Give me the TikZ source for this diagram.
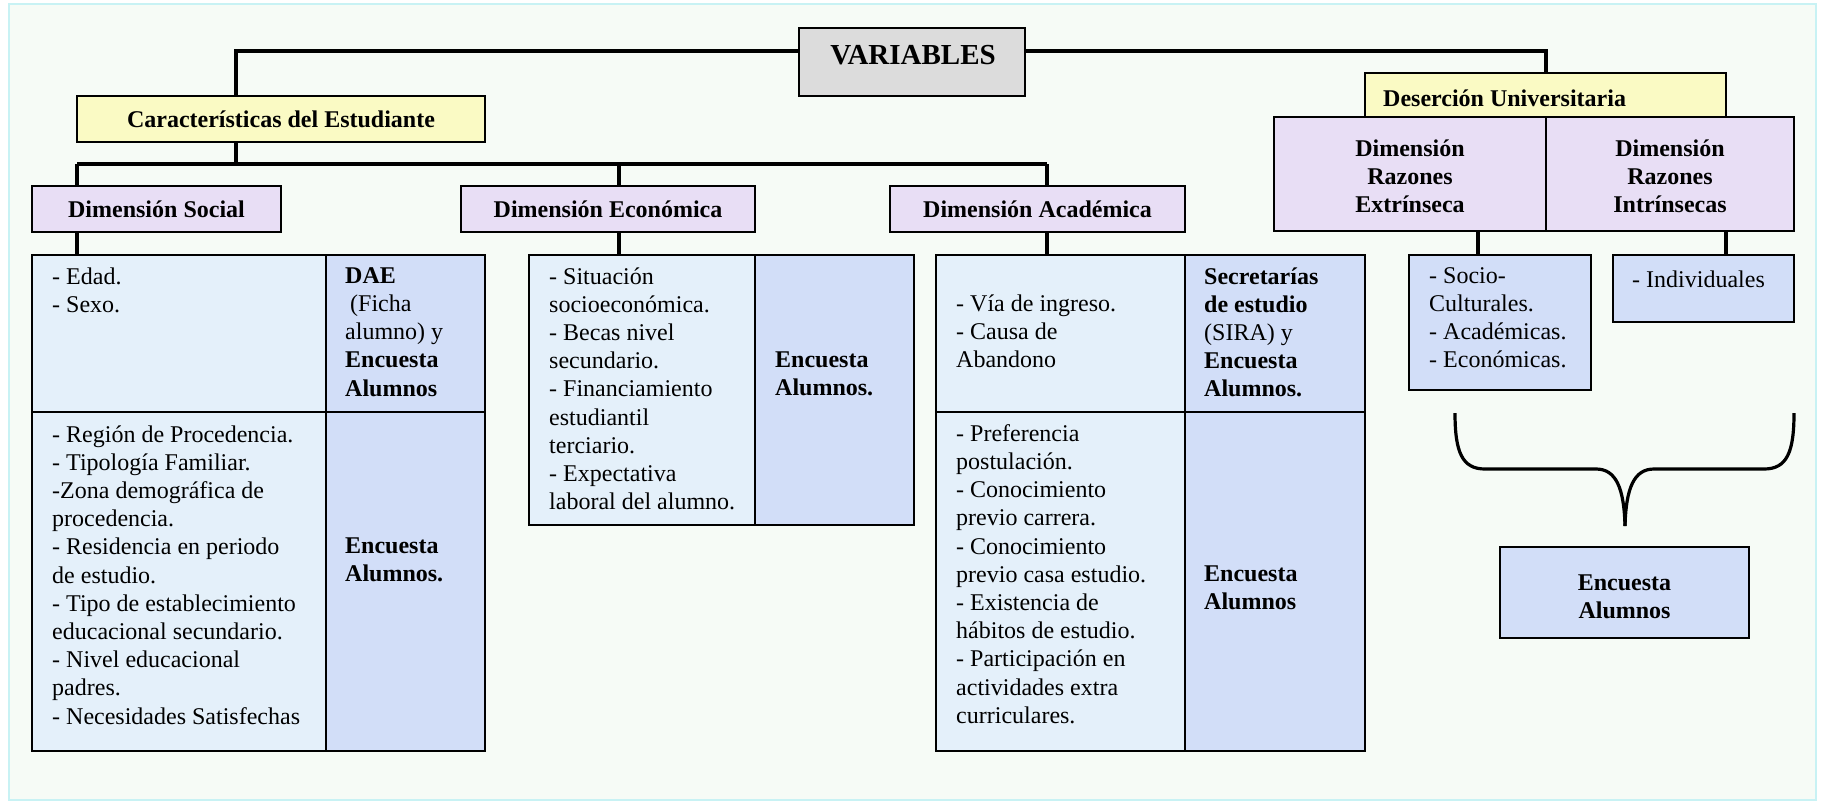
\documentclass[tikz,border=0pt]{standalone}
\usepackage{fontspec}
\setmainfont{Liberation Serif}
\definecolor{bgc}{HTML}{F6FBF6}
\definecolor{framec}{HTML}{C8F2F4}
\definecolor{grayc}{HTML}{DCDCDC}
\definecolor{yelc}{HTML}{FAFAC4}
\definecolor{lavc}{HTML}{E8DEF5}
\definecolor{lbc}{HTML}{E4F0FA}
\definecolor{dbc}{HTML}{D2DEF8}
\newcommand{\bx}[6]{\node[box,fill=#6,minimum width={#4-#2},minimum height={#5-#3}] (#1) at (#2,#3) {};}
\begin{document}
\begin{tikzpicture}[x=1pt,y=-1pt,
  box/.style={draw=black,line width=2.8pt,inner sep=0pt,outer sep=0pt,anchor=north west},
  conn/.style={draw=black,line width=3.4pt},
  tx/.style={font=\fontsize{24}{28.2}\selectfont,inner sep=0pt,align=left,anchor=north west,yshift=19.74pt,execute at begin node=\strut},
  hd/.style={font=\bfseries\fontsize{24}{28.2}\selectfont,inner sep=0pt,align=center},
  brace/.style={draw=black,line width=3.2pt}]
\useasboundingbox (0,0) rectangle (1822,804);
\fill[white] (0,0) rectangle (1822,804);
\draw[fill=bgc,draw=framec,line width=2pt] (9,4) rectangle (1816,800);
% coordinates for connector junctions
\coordinate (jL) at (236,51);
\coordinate (bus) at (236,164);
\coordinate (dS) at (77,164);
\coordinate (dE) at (619,164);
\coordinate (dA) at (1047,164);
% connectors (drawn first, boxes on top)
\draw[conn] (799,51) -- (jL) -- (236,96);
\draw[conn] (1025,51) -| (1546,73);
\draw[conn] (236,142) -- (bus);
\draw[conn] (dS) -- (dA);
\draw[conn] (dS) -- (77,186);
\draw[conn] (dE) -- (619,186);
\draw[conn] (dA) -- (1047,186);
\draw[conn] (77,232) -- (77,255);
\draw[conn] (619,232) -- (619,255);
\draw[conn] (1047,232) -- (1047,255);
\draw[conn] (1478,231) -- (1478,255);
\draw[conn] (1726,231) -- (1726,255);
% boxes
\bx{var}{799}{28}{1025}{96}{grayc}
\bx{car}{77}{96}{485}{142}{yelc}
\bx{des}{1365}{73}{1726}{117}{yelc}
\bx{soc}{32}{186}{281}{232}{lavc}
\bx{eco}{461}{186}{755}{232}{lavc}
\bx{aca}{890}{186}{1185}{232}{lavc}
\bx{ext}{1274}{117}{1546}{231}{lavc}
\bx{int}{1546}{117}{1794}{231}{lavc}
% tables
\bx{s1}{32}{255}{326}{412}{lbc}
\bx{s2}{326}{255}{485}{412}{dbc}
\bx{s3}{32}{412}{326}{751}{lbc}
\bx{s4}{326}{412}{485}{751}{dbc}
\bx{e1}{529}{255}{755}{525}{lbc}
\bx{e2}{755}{255}{914}{525}{dbc}
\bx{a1}{936}{255}{1185}{412}{lbc}
\bx{a2}{1185}{255}{1365}{412}{dbc}
\bx{a3}{936}{412}{1185}{751}{lbc}
\bx{a4}{1185}{412}{1365}{751}{dbc}
\bx{xl}{1409}{255}{1591}{390}{dbc}
\bx{il}{1613}{255}{1794}{322}{dbc}
\bx{fin}{1500}{547}{1749}{638}{dbc}
% header texts
\node[font=\bfseries\fontsize{29}{34}\selectfont,inner sep=0pt] (tvar) at (913,55) {VARIABLES};
\node[hd] (tcar) at (car.center) {Características del Estudiante};
\node[hd,anchor=base west] (tdes) at (1383,106) {Deserción Universitaria};
\node[hd] (tsoc) at (soc.center) {Dimensión Social};
\node[hd] (teco) at (eco.center) {Dimensión Económica};
\node[hd] (taca) at (aca.center) {Dimensión Académica};
\node[hd] (text) at ([yshift=-2pt]ext.center) {Dimensión\\Razones\\Extrínseca};
\node[hd] (tint) at ([yshift=-2pt]int.center) {Dimensión\\Razones\\Intrínsecas};
% cell texts
\node[tx] (ts1) at (52,287) {- Edad.\\- Sexo.};
\node[tx] (ts2) at (345,287) {\textbf{DAE}\\\hspace*{5pt}(Ficha\\alumno) y\\\textbf{Encuesta}\\\textbf{Alumnos}};
\node[tx] (ts3) at (52,445) {- Región de Procedencia.\\- Tipología Familiar.\\-Zona demográfica de\\procedencia.\\- Residencia en periodo\\de estudio.\\- Tipo de establecimiento\\educacional secundario.\\- Nivel educacional\\padres.\\- Necesidades Satisfechas};
\node[tx] (ts4) at (345,557) {\textbf{Encuesta}\\\textbf{Alumnos.}};
\node[tx] (te1) at (549,287) {- Situación\\socioeconómica.\\- Becas nivel\\secundario.\\- Financiamiento\\estudiantil\\terciario.\\- Expectativa\\laboral del alumno.};
\node[tx] (te2) at (775,371) {\textbf{Encuesta}\\\textbf{Alumnos.}};
\node[tx] (ta1) at (956,314) {- Vía de ingreso.\\- Causa de\\Abandono};
\node[tx] (ta2) at (1204,287) {\textbf{Secretarías}\\\textbf{de estudio}\\(SIRA) y\\\textbf{Encuesta}\\\textbf{Alumnos.}};
\node[tx] (ta3) at (956,444) {- Preferencia\\postulación.\\- Conocimiento\\previo carrera.\\- Conocimiento\\previo casa estudio.\\- Existencia de\\hábitos de estudio.\\- Participación en\\actividades extra\\curriculares.};
\node[tx] (ta4) at (1204,585) {\textbf{Encuesta}\\\textbf{Alumnos}};
\node[tx] (tx1) at (1429,287) {- Socio-\\Culturales.\\- Académicas.\\- Económicas.};
\node[tx] (ti1) at (1632,287) {- Individuales};
\node[hd] (tfin) at ([yshift=-4pt]fin.center) {Encuesta\\Alumnos};
% brace
\draw[brace] (1455,413) .. controls (1455,452) and (1462,469) .. (1485,469) -- (1596,469) .. controls (1616,469) and (1624,488) .. (1625,526);
\draw[brace] (1794,413) .. controls (1794,452) and (1787,469) .. (1764,469) -- (1654,469) .. controls (1634,469) and (1626,488) .. (1625,526);
\end{tikzpicture}
\end{document}
